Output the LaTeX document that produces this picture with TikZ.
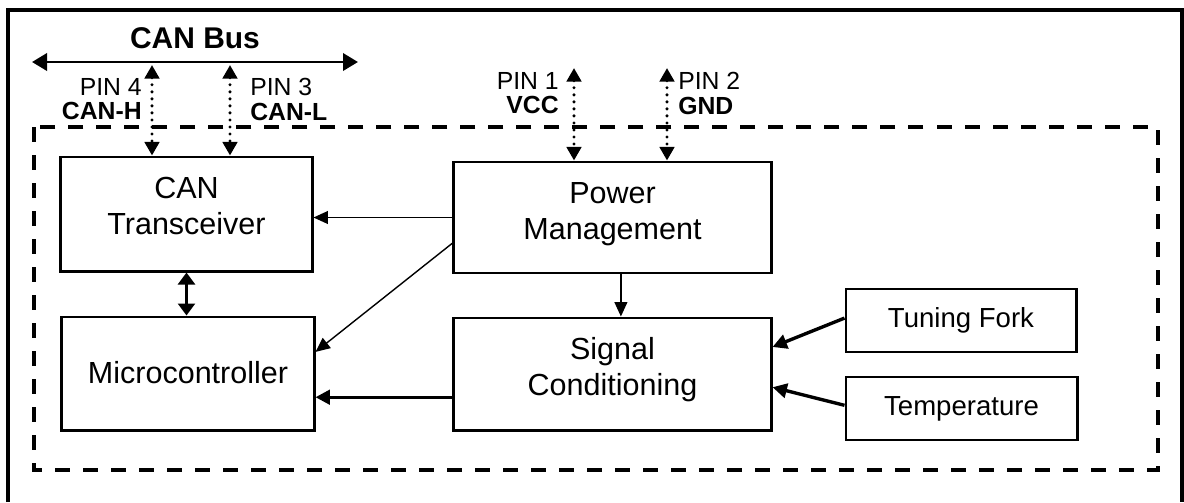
\documentclass[tikz,border=0pt]{standalone}
\usepackage{fontspec}
\setmainfont{Liberation Sans}
\usetikzlibrary{arrows.meta}

\begin{document}
\begin{tikzpicture}[
        x=0.025cm, y=-0.025cm,
        blockbox/.style={draw, line width=2.1pt, inner sep=0pt},
        blocktext/.style={font=\fontsize{21.7}{25.4}\selectfont, align=center, anchor=north, inner sep=0pt},
        sensortext/.style={font=\fontsize{19.6}{22}\selectfont},
        pintext/.style={font=\fontsize{17.6}{17.4}\selectfont, inner sep=0pt},
        thinarrow/.style={-{Triangle[length=0.36cm, width=0.32cm]}, line width=1pt},
        thickarrow/.style={-{Triangle[length=0.36cm, width=0.36cm]}, line width=2.4pt},
        dblarrow/.style={{Triangle[length=0.3cm, width=0.42cm]}-{Triangle[length=0.3cm, width=0.42cm]}, line width=2.4pt},
        busline/.style={{Triangle[length=0.375cm, width=0.43cm]}-{Triangle[length=0.375cm, width=0.43cm]}, line width=2.1pt},
        pinline/.style={{Triangle[length=0.34cm, width=0.36cm]}-{Triangle[length=0.34cm, width=0.36cm]}, line width=2.4pt, line cap=round, dash pattern=on 0pt off 5pt},
        boundary/.style={line width=2.8pt, dash pattern=on 0.375cm off 0.325cm}
    ]
    \useasboundingbox (0, 0) rectangle (1184, 502);

    % --- Frame and module boundary ---
    \draw[line width=2.2pt] (8, 502) -- (8, 10) -- (1182, 10) -- (1182, 502);
    \draw[boundary] (34, 127) rectangle (1158, 470);

    % --- Blocks (Left) ---
    \node[blockbox, minimum width=6.275cm, minimum height=2.85cm] (can_tr) at (186.5, 214) {};
    \node[blocktext] (can_tr_txt) at (186.5, 177) {CAN\\Transceiver};

    \node[blockbox, minimum width=6.3cm, minimum height=2.825cm] (mcu) at (188, 373.5) {};
    \node[blocktext] (mcu_txt) at (188, 361) {Microcontroller};

    % --- Blocks (Middle) ---
    \node[blockbox, minimum width=7.925cm, minimum height=2.775cm] (pwr_mg) at (612.5, 217.5) {};
    \node[blocktext] (pwr_mg_txt) at (612.5, 182) {Power\\Management};

    \node[blockbox, minimum width=7.925cm, minimum height=2.8cm] (sig_cd) at (612.5, 374) {};
    \node[blocktext] (sig_cd_txt) at (612.5, 337) {Signal\\Conditioning};

    % --- Sensors (Right) ---
    \node[blockbox, sensortext, minimum width=5.75cm, minimum height=1.575cm] (fork) at (961, 320.5) {Tuning Fork};
    \node[blockbox, sensortext, minimum width=5.775cm, minimum height=1.575cm] (temp) at (961.5, 408.5) {Temperature};

    % --- CAN bus ---
    \coordinate (bus_l) at (32, 62);
    \coordinate (bus_r) at (358, 62);
    \draw[busline] (bus_l) -- (bus_r);
    \node[font=\bfseries\fontsize{21.3}{24}\selectfont, anchor=base] (bus_txt) at (195, 48) {CAN Bus};

    % --- Pins ---
    \coordinate (pin4) at (152, 65);
    \coordinate (pin3) at (230, 65);
    \coordinate (pin1) at (574, 68);
    \coordinate (pin2) at (667, 68);
    \draw[pinline] (pin4) -- (pin4 |- can_tr.north);
    \draw[pinline] (pin3) -- (pin3 |- can_tr.north);
    \draw[pinline] (pin1) -- (pin1 |- pwr_mg.north);
    \draw[pinline] (pin2) -- (pin2 |- pwr_mg.north);

    \node[pintext, align=right, anchor=north east] (pin4_txt) at (142, 78) {PIN 4\\\textbf{CAN-H}};
    \node[pintext, align=left, anchor=north west] (pin3_txt) at (250, 78) {PIN 3\\\textbf{CAN-L}};
    \node[pintext, align=right, anchor=north east] (pin1_txt) at (559, 72) {PIN 1\\\textbf{VCC}};
    \node[pintext, align=left, anchor=north west] (pin2_txt) at (678, 72) {PIN 2\\\textbf{GND}};

    % --- Connections ---
    \draw[thinarrow] (pwr_mg.west) -- (pwr_mg.west -| can_tr.east);
    \draw[thinarrow] ([yshift=-0.64cm]pwr_mg.west) -- ([yshift=0.54cm]mcu.east);
    \draw[thinarrow] ([xshift=0.21cm]pwr_mg.south) -- ([xshift=0.21cm]sig_cd.north);
    \draw[thickarrow] ([yshift=-0.58cm]sig_cd.west) -- ([yshift=-0.58cm]sig_cd.west -| mcu.east);
    \draw[dblarrow] (can_tr.south) -- (can_tr.south |- mcu.north);
    \draw[thickarrow] ([yshift=0.06cm]fork.west) -- ([yshift=0.675cm]sig_cd.east);
    \draw[thickarrow] ([yshift=0.08cm]temp.west) -- ([yshift=-0.33cm]sig_cd.east);

\end{tikzpicture}
\end{document}
